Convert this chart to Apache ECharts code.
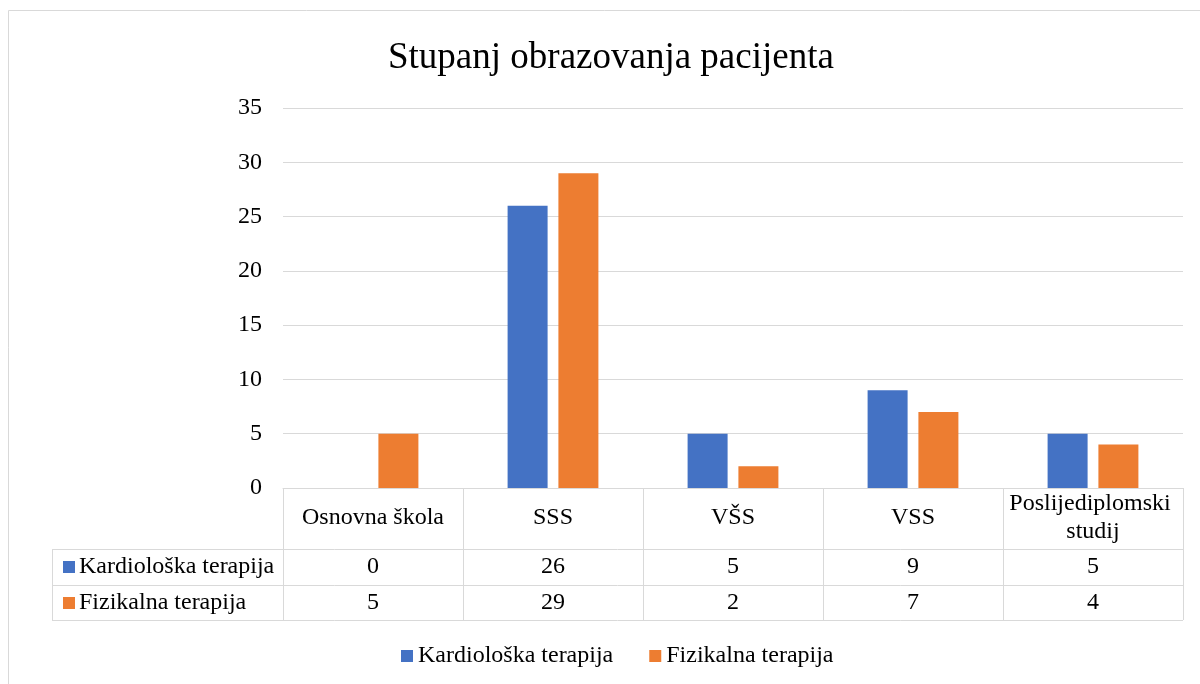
<!DOCTYPE html>
<html>
<head>
<meta charset="utf-8">
<script src="https://cdn.jsdelivr.net/npm/echarts@6/dist/echarts.min.js"></script>
<style>
  html, body { margin: 0; padding: 0; background: #fff; }
  #chart { width: 1200px; height: 684px; }
</style>
</head>
<body>
<div id="chart"></div>
<script>
const categories = ['Osnovna škola', 'SSS', 'VŠS', 'VSS', 'Poslijediplomski studij']
const seriesNames = ['Kardiološka terapija', 'Fizikalna terapija']
const kardioloska = [0, 26, 5, 9, 5]
const fizikalna = [5, 29, 2, 7, 4]
const colors = ['#4472C4', '#ED7D31']

const FONT = '"Liberation Serif", "Times New Roman", serif'
const LINE = '#d9d9d9'

const chart = echarts.init(document.getElementById('chart'))

chart.setOption({
  animation: false,
  title: {
    text: 'Stupanj obrazovanja pacijenta',
    left: 383,
    top: 35,
    textStyle: { fontFamily: FONT, fontSize: 37, fontWeight: 'normal', color: '#000' },
  },
  legend: {
    data: seriesNames,
    left: 396,
    top: 639,
    icon: 'rect',
    itemWidth: 12,
    itemHeight: 12,
    itemGap: 36,
    textStyle: { fontFamily: FONT, fontSize: 24, color: '#000' },
  },
  grid: { left: 283, right: 17, top: 108, bottom: 196 },
  xAxis: {
    type: 'category',
    data: categories,
    axisLine: { lineStyle: { color: LINE, width: 1 } },
    axisTick: { show: true, length: 132, interval: 0, lineStyle: { color: LINE, width: 1 } },
    axisLabel: {
      interval: 0,
      margin: 30,
      verticalAlign: 'middle',
      width: 170,
      overflow: 'break',
      lineHeight: 28,
      fontFamily: FONT,
      fontSize: 24,
      color: '#000',
    },
  },
  yAxis: {
    type: 'value',
    min: 0,
    max: 35,
    interval: 5,
    axisLine: { show: false },
    axisTick: { show: false },
    splitLine: { lineStyle: { color: LINE, width: 1 } },
    axisLabel: { margin: 21, fontFamily: FONT, fontSize: 24, color: '#000' },
  },
  series: [
    { name: seriesNames[0], type: 'bar', data: kardioloska, barWidth: 40, barGap: '27%', itemStyle: { color: colors[0] } },
    { name: seriesNames[1], type: 'bar', data: fizikalna, barWidth: 40, barGap: '27%', itemStyle: { color: colors[1] } },
  ],
})

// data table under the axis
const rowsTop = [549, 585]
const rowH = 36
const tableLeft = 52
const graphic = [
  { type: 'rect', silent: true, shape: { x: 8.5, y: 10.5, width: 1200, height: 700 }, style: { fill: 'none', stroke: LINE, lineWidth: 1 } },
  { type: 'line', silent: true, shape: { x1: tableLeft + 0.5, y1: 549, x2: tableLeft + 0.5, y2: 620 }, style: { stroke: LINE, lineWidth: 1 } },
]
;[549, 585, 620].forEach((y) => {
  graphic.push({ type: 'line', silent: true, shape: { x1: tableLeft, y1: y + 0.5, x2: 1183, y2: y + 0.5 }, style: { stroke: LINE, lineWidth: 1 } })
})
const rowData = [kardioloska, fizikalna]
rowData.forEach((vals, r) => {
  const cy = rowsTop[r] + rowH / 2
  graphic.push({ type: 'rect', silent: true, shape: { x: 63, y: cy - 6, width: 12, height: 12 }, style: { fill: colors[r] } })
  graphic.push({
    type: 'text', silent: true, x: 79, y: cy,
    style: { text: seriesNames[r], font: '24px ' + FONT, fill: '#000', verticalAlign: 'middle', align: 'left' },
  })
  vals.forEach((v, i) => {
    const cx = chart.convertToPixel({ xAxisIndex: 0 }, categories[i])
    graphic.push({
      type: 'text', silent: true, x: cx, y: cy,
      style: { text: String(v), font: '24px ' + FONT, fill: '#000', verticalAlign: 'middle', align: 'center' },
    })
  })
})
chart.setOption({ graphic })
</script>
</body>
</html>
